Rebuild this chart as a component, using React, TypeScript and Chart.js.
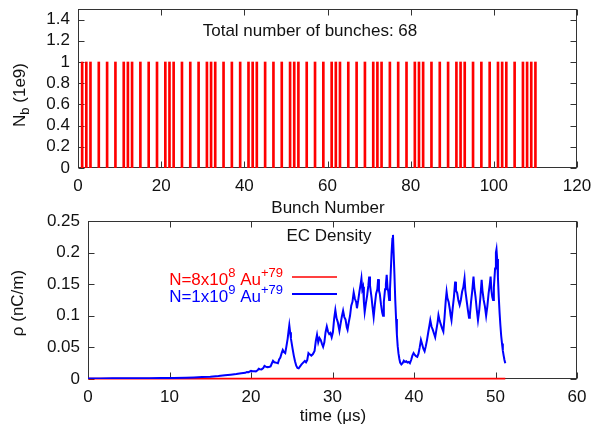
import React, { useEffect, useRef } from 'react';
import { Chart, registerables } from 'chart.js';
Chart.register(...registerables);

// ---------- data ----------
const bunchNumbers = [
  1, 2, 3, 5, 7, 9, 11, 12, 13, 15, 17, 19, 21, 22, 23, 25, 27, 29, 31, 32,
  33, 35, 37, 39, 41, 42, 43, 45, 47, 49, 51, 52, 53, 55, 57, 59, 61, 62, 63, 65,
  67, 69, 71, 72, 73, 75, 77, 79, 81, 82, 83, 85, 87, 89, 91, 92, 93, 95, 97, 99,
  101, 102, 103, 105, 107, 108, 109, 110,
];
const bunchIntensity = [
  1, 1, 1, 1, 1, 1, 1, 1, 1, 1, 1, 1, 1, 1, 1, 1, 1, 1, 1, 1,
  1, 1, 1, 1, 1, 1, 1, 1, 1, 1, 1, 1, 1, 1, 1, 1, 1, 1, 1, 1,
  1, 1, 1, 1, 1, 1, 1, 1, 1, 1, 1, 1, 1, 1, 1, 1, 1, 1, 1, 1,
  1, 1, 1, 1, 1, 1, 1, 1,
];
const topXTicks = [0, 20, 40, 60, 80, 100, 120];
const topYTicks = [0, 0.2, 0.4, 0.6, 0.8, 1, 1.2, 1.4];

const timeBlue = [
  0, 1.5, 3, 4.5, 6, 7.5, 9, 10.5, 12, 13,
  14, 15, 16, 16.8, 17.5, 18.2, 18.8, 19.3, 19.5, 19.7,
  20.0, 20.2, 20.4, 20.6, 20.8, 20.95, 21.1, 21.3, 21.5, 21.65,
  21.8, 22.0, 22.2, 22.4, 22.55, 22.7, 22.85, 23.0, 23.15, 23.3,
  23.45, 23.6, 23.75, 23.9, 24.05, 24.2, 24.35, 24.5, 24.6, 24.7,
  24.8, 24.9, 25.0, 25.1, 25.25, 25.4, 25.55, 25.7, 25.85, 26.0,
  26.2, 26.4, 26.6, 26.75, 26.9, 27.05, 27.2, 27.4, 27.6, 27.8,
  27.95, 28.1, 28.25, 28.4, 28.55, 28.7, 28.85, 29.0, 29.15, 29.3,
  29.45, 29.6, 29.75, 29.9, 30.05, 30.2, 30.35, 30.5, 30.65, 30.75,
  30.85, 31.0, 31.15, 31.3, 31.45, 31.6, 31.75, 31.85, 32.0, 32.15,
  32.3, 32.45, 32.6, 32.75, 32.9, 33.0, 33.15, 33.3, 33.45, 33.55,
  33.65, 33.75, 33.85, 33.95, 34.1, 34.25, 34.4, 34.5, 34.6, 34.7,
  34.8, 34.9, 35.05, 35.2, 35.35, 35.5, 35.6, 35.7, 35.8, 35.95,
  36.1, 36.2, 36.3, 36.45, 36.55, 36.65, 36.75, 36.85, 36.95, 37.05,
  37.15, 37.25, 37.35, 37.42, 37.5, 37.6, 37.7, 37.8, 37.9, 38.0,
  38.1, 38.2, 38.3, 38.45, 38.6, 38.75, 38.9, 39.05, 39.2, 39.35,
  39.5, 39.65, 39.8, 39.95, 40.1, 40.25, 40.4, 40.55, 40.7, 40.85,
  41.0, 41.15, 41.3, 41.45, 41.6, 41.75, 41.9, 42.0, 42.15, 42.3,
  42.45, 42.6, 42.75, 42.9, 43.0, 43.15, 43.3, 43.45, 43.6, 43.75,
  43.9, 44.0, 44.1, 44.25, 44.4, 44.5, 44.6, 44.75, 44.9, 45.05,
  45.15, 45.3, 45.45, 45.6, 45.75, 45.9, 46.05, 46.2, 46.3, 46.45,
  46.6, 46.75, 46.85, 47.0, 47.15, 47.3, 47.4, 47.55, 47.7, 47.85,
  48.0, 48.15, 48.3, 48.4, 48.55, 48.7, 48.85, 49.0, 49.15, 49.3,
  49.4, 49.5, 49.6, 49.7, 49.8, 49.95, 50.05, 50.12, 50.2, 50.3,
  50.4, 50.5, 50.6, 50.7, 50.8, 50.9, 51.0, 51.1, 51.2,
];
const rhoBlue = [
  0.0008, 0.0009, 0.001, 0.0011, 0.0012, 0.0013, 0.0015, 0.0017, 0.002, 0.0024,
  0.003, 0.0036, 0.0046, 0.0058, 0.0068, 0.0078, 0.0092, 0.0098, 0.0112, 0.0108,
  0.0128, 0.0122, 0.0124, 0.0121, 0.0138, 0.0162, 0.0155, 0.0152, 0.0172, 0.0208,
  0.0195, 0.0188, 0.019, 0.0198, 0.0245, 0.0288, 0.0265, 0.026, 0.0255, 0.025,
  0.031, 0.034, 0.0405, 0.046, 0.0425, 0.041, 0.052, 0.064, 0.075, 0.085,
  0.074, 0.064, 0.056, 0.048, 0.037, 0.028, 0.021, 0.0175, 0.0168, 0.0195,
  0.023, 0.026, 0.0285, 0.0265, 0.03, 0.041, 0.039, 0.037, 0.0395, 0.0445,
  0.06, 0.07, 0.058, 0.065, 0.062, 0.056, 0.051, 0.058, 0.074, 0.083,
  0.075, 0.071, 0.073, 0.066, 0.074, 0.095, 0.109, 0.096, 0.09, 0.083,
  0.076, 0.088, 0.099, 0.108, 0.098, 0.094, 0.082, 0.078, 0.09, 0.1,
  0.116, 0.122, 0.137, 0.127, 0.122, 0.112, 0.124, 0.138, 0.15, 0.159,
  0.142, 0.146, 0.122, 0.106, 0.12, 0.132, 0.148, 0.162, 0.148, 0.138,
  0.128, 0.115, 0.098, 0.118, 0.135, 0.142, 0.158, 0.14, 0.135, 0.118,
  0.105, 0.1, 0.122, 0.142, 0.15, 0.165, 0.145, 0.138, 0.125, 0.14,
  0.17, 0.2, 0.222, 0.228, 0.2, 0.165, 0.125, 0.095, 0.07, 0.052,
  0.04, 0.032, 0.026, 0.023, 0.025, 0.029, 0.027, 0.028, 0.026, 0.027,
  0.025, 0.03, 0.037, 0.041, 0.038, 0.036, 0.035, 0.04, 0.05, 0.062,
  0.055, 0.048, 0.044, 0.052, 0.062, 0.074, 0.085, 0.093, 0.083, 0.078,
  0.072, 0.066, 0.078, 0.09, 0.101, 0.092, 0.086, 0.08, 0.075, 0.098,
  0.125, 0.138, 0.128, 0.122, 0.11, 0.1, 0.093, 0.112, 0.13, 0.154,
  0.14, 0.136, 0.124, 0.117, 0.125, 0.138, 0.145, 0.159, 0.14, 0.125,
  0.11, 0.097, 0.1, 0.122, 0.14, 0.162, 0.145, 0.13, 0.11, 0.093,
  0.108, 0.13, 0.157, 0.14, 0.125, 0.115, 0.1, 0.115, 0.135, 0.15,
  0.162, 0.14, 0.13, 0.125, 0.145, 0.175, 0.2, 0.205, 0.19, 0.16,
  0.13, 0.105, 0.085, 0.068, 0.056, 0.045, 0.037, 0.03, 0.025,
];
const timeRed = [0, 5, 10, 15, 20, 25, 30, 35, 40, 45, 51.2];
const rhoRed = [0.0006, 0.0006, 0.0005, 0.0006, 0.0007, 0.0006, 0.0005, 0.0007, 0.0006, 0.0007, 0.0006];
const botXTicks = [0, 10, 20, 30, 40, 50, 60];
const botYTicks = [0, 0.05, 0.1, 0.15, 0.2, 0.25];

// ---------- helpers ----------
const FONT = 'Liberation Sans, Arial, Helvetica, sans-serif';
const FS = 17;
const TEXT = '#111';
const FRAME = '#333';

type Seg = { t: string; sup?: boolean; sub?: boolean };

function segWidth(ctx: CanvasRenderingContext2D, segs: Seg[], size: number) {
  let w = 0;
  for (const s of segs) {
    ctx.font = `${s.sup || s.sub ? Math.round(size * 0.75) : size}px ${FONT}`;
    w += ctx.measureText(s.t).width;
  }
  return w;
}

function drawRich(ctx: CanvasRenderingContext2D, segs: Seg[], x: number, y: number, size: number, color: string) {
  ctx.fillStyle = color;
  ctx.textBaseline = 'middle';
  ctx.textAlign = 'left';
  let cx = x;
  for (const s of segs) {
    const small = s.sup || s.sub;
    ctx.font = `${small ? Math.round(size * 0.75) : size}px ${FONT}`;
    const dy = s.sup ? -size * 0.4 : s.sub ? size * 0.3 : 0;
    ctx.fillText(s.t, cx, y + dy);
    cx += ctx.measureText(s.t).width;
  }
}

function drawCentered(ctx: CanvasRenderingContext2D, segs: Seg[], cx: number, cy: number, size: number, color: string, rotate = false) {
  ctx.save();
  ctx.translate(cx, cy);
  if (rotate) ctx.rotate(-Math.PI / 2);
  const w = segWidth(ctx, segs, size);
  drawRich(ctx, segs, -w / 2, 0, size, color);
  ctx.restore();
}

function framePlugin(xTicks: number[], yTicks: number[]) {
  return {
    id: 'frame',
    beforeDatasetsDraw(chart: any) {
      const { ctx, chartArea: a, scales } = chart;
      const L = Math.round(a.left) + 0.5;
      const R = Math.round(a.right) - 0.5;
      const T = Math.round(a.top) + 0.5;
      const B = Math.round(a.bottom) - 0.5;
      ctx.save();
      ctx.strokeStyle = FRAME;
      ctx.lineWidth = 1;
      ctx.strokeRect(L, T, R - L, B - T);
      const len = 6;
      ctx.beginPath();
      for (const v of xTicks) {
        const px = Math.round(scales.x.getPixelForValue(v)) + 0.5;
        ctx.moveTo(px, B); ctx.lineTo(px, B - len);
        ctx.moveTo(px, T); ctx.lineTo(px, T + len);
      }
      for (const v of yTicks) {
        const py = Math.round(scales.y.getPixelForValue(v)) + 0.5;
        ctx.moveTo(L, py); ctx.lineTo(L + len, py);
        ctx.moveTo(R, py); ctx.lineTo(R - len, py);
      }
      ctx.stroke();
      ctx.restore();
    },
  };
}

function fmt(v: number) {
  return String(+Number(v).toFixed(2));
}

function axisOpts(ticks: number[], min: number, max: number, fit: (s: any) => void) {
  return {
    type: 'linear' as const,
    min,
    max,
    offset: false,
    grid: { display: false, drawTicks: false },
    border: { display: false },
    ticks: {
      font: { family: FONT, size: FS },
      color: TEXT,
      padding: 8,
      autoSkip: false,
      maxRotation: 0,
      callback: (v: any) => fmt(v),
    },
    afterBuildTicks: (s: any) => {
      s.ticks = ticks.map((v) => ({ value: v }));
    },
    afterFit: (s: any) => {
      fit(s);
      s.paddingLeft = 0;
      s.paddingRight = 0;
      s.paddingTop = 0;
      s.paddingBottom = 0;
    },
  };
}

const H = 230;

export default function App() {
  const topRef = useRef<HTMLCanvasElement>(null);
  const botRef = useRef<HTMLCanvasElement>(null);

  useEffect(() => {
    const topText = {
      id: 'topText',
      afterDraw(chart: any) {
        const ctx = chart.ctx;
        drawCentered(ctx, [{ t: 'Total number of bunches: 68' }], 310, 31, FS, TEXT);
        drawCentered(ctx, [{ t: 'Bunch Number' }], 328, 208, FS, TEXT);
        drawCentered(ctx, [{ t: 'N' }, { t: 'b', sub: true }, { t: ' (1e9)' }], 20, 95, FS, TEXT, true);
      },
    };
    const top = new Chart(topRef.current!, {
      type: 'bar',
      data: {
        datasets: [
          {
            data: bunchNumbers.map((b, i) => ({ x: b, y: bunchIntensity[i] })),
            backgroundColor: '#ff0000',
            borderWidth: 0,
            barThickness: 2,
            grouped: false,
          } as any,
        ],
      },
      options: {
        animation: false,
        responsive: false,
        layout: { padding: { top: 9, right: 16, left: 0, bottom: 0 } },
        plugins: { legend: { display: false }, tooltip: { enabled: false } },
        scales: {
          x: axisOpts(topXTicks, 0, 120, (s: any) => { s.height = H - 168; }),
          y: axisOpts(topYTicks, 0, 1.5, (s: any) => { s.width = 78; }),
        } as any,
      },
      plugins: [framePlugin(topXTicks, topYTicks), topText],
    });

    const OFF = 200;
    const botText = {
      id: 'botText',
      afterDraw(chart: any) {
        const ctx = chart.ctx;
        drawCentered(ctx, [{ t: 'EC Density' }], 329, 236 - OFF, FS, TEXT);
        drawCentered(ctx, [{ t: 'time (μs)' }], 333, 416 - OFF, FS, TEXT);
        drawCentered(ctx, [{ t: 'ρ (nC/m)' }], 18, 303 - OFF, FS, TEXT, true);
        const redSegs: Seg[] = [{ t: 'N=8x10' }, { t: '8', sup: true }, { t: ' Au' }, { t: '+79', sup: true }];
        const blueSegs: Seg[] = [{ t: 'N=1x10' }, { t: '9', sup: true }, { t: ' Au' }, { t: '+79', sup: true }];
        const right = 283;
        const wr = segWidth(ctx, redSegs, FS);
        drawRich(ctx, redSegs, right - wr, 280 - OFF, FS, '#ff0000');
        const wb = segWidth(ctx, blueSegs, FS);
        drawRich(ctx, blueSegs, right - wb, 297 - OFF, FS, '#0000ff');
        ctx.save();
        ctx.lineWidth = 1.5;
        ctx.strokeStyle = '#ff0000';
        ctx.beginPath(); ctx.moveTo(292, 277 - OFF); ctx.lineTo(337, 277 - OFF); ctx.stroke();
        ctx.strokeStyle = '#0000ff';
        ctx.lineWidth = 2;
        ctx.beginPath(); ctx.moveTo(292, 294 - OFF); ctx.lineTo(337, 294 - OFF); ctx.stroke();
        ctx.restore();
      },
    };
    const bot = new Chart(botRef.current!, {
      type: 'line',
      data: {
        datasets: [
          {
            data: timeBlue.map((t, i) => ({ x: t, y: rhoBlue[i] })),
            borderColor: '#0000ff',
            borderWidth: 2,
            pointRadius: 0,
            tension: 0,
            order: 1,
          },
          {
            data: timeRed.map((t, i) => ({ x: t, y: rhoRed[i] })),
            borderColor: '#ff0000',
            borderWidth: 1.8,
            pointRadius: 0,
            tension: 0,
            clip: false,
            order: 2,
          } as any,
        ],
      },
      options: {
        animation: false,
        responsive: false,
        layout: { padding: { top: 21, right: 16, left: 0, bottom: 0 } },
        plugins: { legend: { display: false }, tooltip: { enabled: false } },
        scales: {
          x: axisOpts(botXTicks, 0, 60, (s: any) => { s.height = H - 179; }),
          y: axisOpts(botYTicks, 0, 0.25, (s: any) => { s.width = 88; }),
        } as any,
      },
      plugins: [framePlugin(botXTicks, botYTicks), botText],
    });

    return () => {
      top.destroy();
      bot.destroy();
    };
  }, []);

  return (
    <div style={{ position: 'absolute', left: 0, top: 0, width: 593, height: 430, background: '#fff' }}>
      <canvas ref={topRef} width={593} height={H} style={{ position: 'absolute', left: 0, top: 0, width: 593, height: H }} />
      <canvas ref={botRef} width={593} height={H} style={{ position: 'absolute', left: 0, top: 200, width: 593, height: H }} />
    </div>
  );
}
